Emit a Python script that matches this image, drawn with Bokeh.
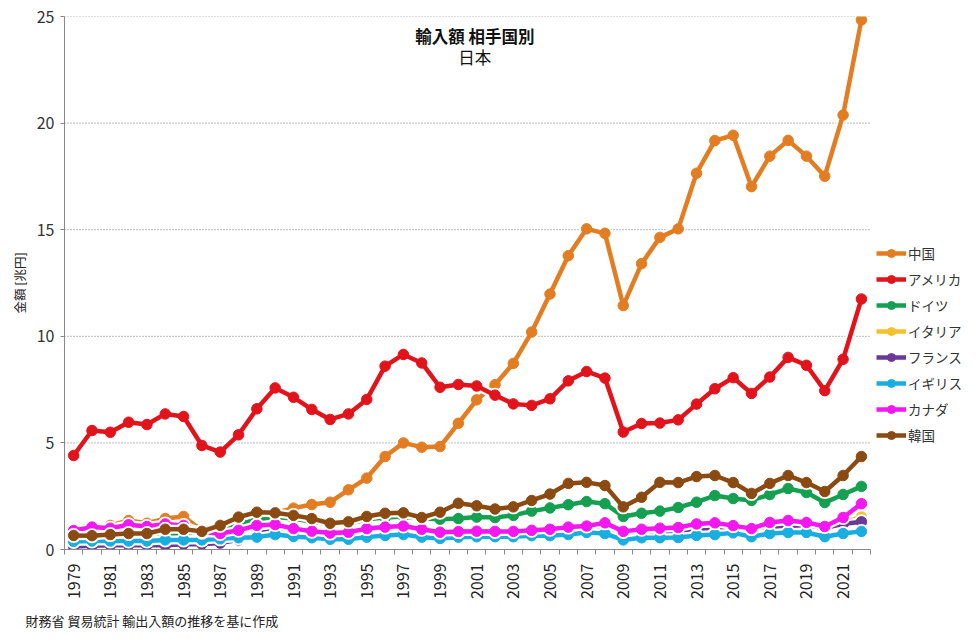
from bokeh.plotting import figure
from bokeh.models import (Legend, LegendItem, FixedTicker, Label, Range1d, Title)
from bokeh.embed import file_html
from bokeh.resources import INLINE

years = list(range(1979, 2023))

china = [0.75, 0.92, 1.13, 1.36, 1.23, 1.45, 1.55, 0.89, 1.0, 1.3, 1.5, 1.72, 1.94, 2.11, 2.22, 2.8,
         3.35, 4.36, 5.0, 4.8, 4.83, 5.92, 7.02, 7.73, 8.73, 10.2, 11.98, 13.78, 15.04, 14.83,
         11.44, 13.41, 14.64, 15.04, 17.65, 19.18, 19.43, 17.02, 18.45, 19.19, 18.45, 17.51, 20.38, 24.84]
usa = [4.41, 5.58, 5.5, 5.97, 5.86, 6.36, 6.24, 4.88, 4.57, 5.38, 6.6, 7.58, 7.14, 6.57, 6.1, 6.36,
       7.04, 8.6, 9.15, 8.75, 7.61, 7.74, 7.67, 7.24, 6.83, 6.76, 7.07, 7.91, 8.35, 8.04,
       5.51, 5.91, 5.93, 6.08, 6.82, 7.54, 8.06, 7.32, 8.09, 9.01, 8.64, 7.45, 8.92, 11.75]
germany = [0.55, 0.6, 0.62, 0.62, 0.63, 0.7, 0.72, 0.85, 0.95, 1.2, 1.39, 1.52, 1.45, 1.3, 1.17, 1.2,
           1.42, 1.5, 1.55, 1.45, 1.42, 1.45, 1.52, 1.5, 1.6, 1.8, 1.95, 2.1, 2.25, 2.15,
           1.55, 1.7, 1.8, 1.97, 2.22, 2.53, 2.39, 2.3, 2.58, 2.86, 2.67, 2.2, 2.58, 2.96]
italy = [0.15, 0.18, 0.2, 0.2, 0.2, 0.22, 0.25, 0.28, 0.3, 0.42, 0.55, 0.7, 0.6, 0.55, 0.5, 0.5,
         0.6, 0.65, 0.65, 0.6, 0.6, 0.62, 0.65, 0.65, 0.7, 0.72, 0.75, 0.8, 0.85, 0.85,
         0.65, 0.7, 0.75, 0.72, 0.85, 0.9, 0.92, 1.0, 1.02, 1.1, 1.15, 1.02, 1.28, 1.52]
france = [0.14, 0.18, 0.2, 0.2, 0.2, 0.2, 0.25, 0.25, 0.3, 0.45, 0.75, 0.9, 0.75, 0.7, 0.65, 0.6,
          0.7, 0.75, 0.7, 0.7, 0.7, 0.7, 0.7, 0.7, 0.75, 0.75, 0.8, 0.9, 1.0, 1.0,
          0.75, 0.8, 0.85, 0.85, 0.9, 0.95, 1.0, 1.0, 1.05, 1.1, 1.15, 1.0, 1.2, 1.3]
uk = [0.38, 0.4, 0.4, 0.4, 0.4, 0.45, 0.45, 0.45, 0.5, 0.55, 0.58, 0.7, 0.61, 0.55, 0.48, 0.48,
      0.58, 0.66, 0.7, 0.58, 0.52, 0.58, 0.6, 0.6, 0.6, 0.65, 0.65, 0.7, 0.8, 0.75,
      0.45, 0.55, 0.55, 0.56, 0.66, 0.7, 0.78, 0.6, 0.75, 0.8, 0.8, 0.6, 0.75, 0.85]
canada = [0.89, 1.05, 1.0, 1.16, 1.08, 1.2, 1.13, 0.81, 0.75, 0.9, 1.13, 1.17, 0.98, 0.86, 0.77, 0.81,
          0.98, 1.05, 1.1, 0.95, 0.81, 0.84, 0.86, 0.85, 0.85, 0.9, 0.95, 1.05, 1.1, 1.25,
          0.85, 0.95, 1.0, 1.03, 1.2, 1.25, 1.12, 0.98, 1.27, 1.36, 1.27, 1.08, 1.5, 2.15]
korea = [0.66, 0.65, 0.7, 0.75, 0.75, 0.95, 0.95, 0.85, 1.13, 1.52, 1.75, 1.72, 1.6, 1.45, 1.23, 1.3,
         1.55, 1.7, 1.72, 1.5, 1.75, 2.17, 2.05, 1.9, 2.0, 2.3, 2.6, 3.1, 3.15, 3.0,
         2.0, 2.45, 3.15, 3.14, 3.42, 3.47, 3.14, 2.63, 3.1, 3.47, 3.14, 2.72, 3.47, 4.36]

series_names = ["中国", "アメリカ", "ドイツ", "イタリア", "フランス", "イギリス", "カナダ", "韓国"]
series_values = [china, usa, germany, italy, france, uk, canada, korea]
series_colors = ["#E37D22", "#E3131B", "#14A050", "#F5C12E", "#6B3A96", "#1AAEE0", "#F516F0", "#8B4A12"]

y_ticks = [0, 5, 10, 15, 20, 25]
x_tick_years = [y for y in years if y % 2 == 1]

title_line1 = "輸入額 相手国別"
title_line2 = "日本"
y_label = "金額 [兆円]"
footer = "財務省 貿易統計 輸出入額の推移を基に作成"

FONT = "Noto Sans CJK JP"

x_start = years[0] - 0.5
x_end = years[-1] + 0.5
PX_PER_YEAR = 18.32
FRAME_W = 977 - 64
x_range_end = x_start + FRAME_W / PX_PER_YEAR   # extra room on the right for the legend

p = figure(width=977, height=639, output_backend="svg", toolbar_location=None,
           x_range=Range1d(x_start, x_range_end), y_range=Range1d(0, 25),
           min_border_left=64, min_border_top=16, min_border_bottom=90, min_border_right=0)
p.outline_line_color = None
p.background_fill_color = "white"
p.border_fill_color = "white"

# dotted horizontal gridlines limited to the category span
p.segment(x0=[x_start] * (len(y_ticks) - 1), x1=[x_end] * (len(y_ticks) - 1),
          y0=y_ticks[1:], y1=y_ticks[1:], line_color="#777777", line_dash="1 2", line_width=1)

items = []
for name, vals, col in zip(series_names, series_values, series_colors):
    p.line(years, vals, line_color="white", line_width=9, line_join="round")
    p.scatter(years, vals, size=15, fill_color="white", line_color=None)
    ln = p.line(years, vals, line_color=col, line_width=4.5, line_join="round")
    sc = p.scatter(years, vals, size=10.5, fill_color=col, line_color=col)
    items.append(LegendItem(label=name, renderers=[ln, sc]))

legend = Legend(items=items, location=(812, 104), border_line_color=None,
                background_fill_alpha=0, padding=4, margin=0, spacing=6,
                glyph_width=30, glyph_height=20, label_height=20, label_standoff=2,
                label_text_font=FONT, label_text_font_size="13.5px", label_text_color="#333333")
p.add_layout(legend, "center")

# axes
p.xaxis.bounds = (x_start, x_end)
p.xaxis.ticker = FixedTicker(ticks=x_tick_years, minor_ticks=[y + 0.5 for y in [years[0] - 1] + years])
p.xaxis.major_label_orientation = 1.5708
p.xaxis.major_tick_line_color = None
p.xaxis.minor_tick_in = 0
p.xaxis.minor_tick_out = 5
p.xaxis.minor_tick_line_color = "#888888"
p.xaxis.axis_line_color = "#888888"
p.xaxis.major_label_text_font = FONT
p.xaxis.major_label_text_font_size = "16px"
p.xaxis.major_label_text_color = "#222222"
p.xaxis.major_label_standoff = 8

p.yaxis.ticker = FixedTicker(ticks=y_ticks)
p.yaxis.minor_tick_line_color = None
p.yaxis.major_tick_in = 0
p.yaxis.major_tick_out = 4
p.yaxis.major_tick_line_color = "#888888"
p.yaxis.axis_line_color = "#888888"
p.yaxis.major_label_text_font = FONT
p.yaxis.major_label_text_font_size = "16px"
p.yaxis.major_label_text_color = "#333333"
p.yaxis.major_label_standoff = 6
p.yaxis.axis_label = y_label
p.yaxis.axis_label_text_font = FONT
p.yaxis.axis_label_text_font_size = "12.5px"
p.yaxis.axis_label_text_font_style = "normal"
p.yaxis.axis_label_text_color = "#222222"
p.yaxis.axis_label_standoff = 5

p.xgrid.grid_line_color = None
p.ygrid.grid_line_color = None

p.add_layout(Label(x=2000.9, y=24.1, text=title_line1, text_align="center", text_baseline="middle",
                   text_font=FONT, text_font_size="16.5px", text_font_style="bold",
                   text_color="#111111"))
p.add_layout(Label(x=2000.9, y=23.1, text=title_line2, text_align="center", text_baseline="middle",
                   text_font=FONT, text_font_size="16.5px", text_color="#111111"))

p.add_layout(Title(text=footer, align="left", offset=-39, standoff=13,
                   text_font=FONT, text_font_size="13px", text_font_style="normal",
                   text_color="#222222"), "below")

open("out.html", "w").write(file_html(p, INLINE))
